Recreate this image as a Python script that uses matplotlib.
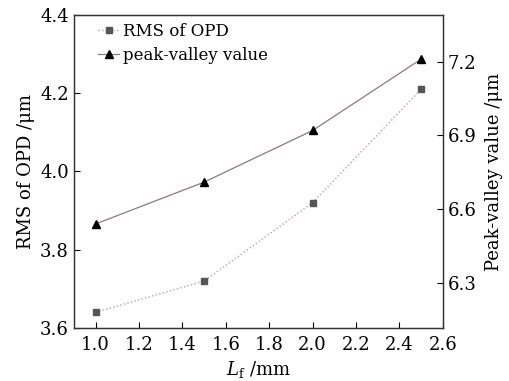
import numpy as np
import matplotlib.pyplot as plt
from matplotlib.ticker import MultipleLocator

plt.rcParams['font.family'] = ['DejaVu Serif']
plt.rcParams['mathtext.fontset'] = 'dejavuserif'

lf = [1.0, 1.5, 2.0, 2.5]
rms_opd = [3.64, 3.72, 3.92, 4.21]
peak_valley = [6.54, 6.71, 6.92, 7.21]

fig = plt.figure(figsize=(5.09, 3.81), dpi=100)
ax = fig.add_axes([0.145, 0.139, 0.725, 0.822])
ax2 = ax.twinx()

l1, = ax.plot(lf, rms_opd, color='#b8a09c', linestyle=':', linewidth=1.0,
              marker='s', markersize=4, markerfacecolor='#555555',
              markeredgecolor='#555555', label='RMS of OPD')
l2, = ax2.plot(lf, peak_valley, color='#8a7a78', linestyle='-', linewidth=0.9,
               marker='^', markersize=5.5, markerfacecolor='black',
               markeredgecolor='black', label='peak-valley value')

ax.set_xlim(0.9, 2.6)
ax.set_ylim(3.6, 4.4)
ax2.set_ylim(6.117, 7.39)

ax.xaxis.set_major_locator(MultipleLocator(0.2))
ax.yaxis.set_major_locator(MultipleLocator(0.2))
ax2.yaxis.set_major_locator(MultipleLocator(0.3))
ax.xaxis.set_major_formatter(lambda v, p: f'{v:.1f}')
ax.yaxis.set_major_formatter(lambda v, p: f'{v:.1f}')
ax2.yaxis.set_major_formatter(lambda v, p: f'{v:.1f}')

ax.tick_params(axis='both', direction='in', length=4, width=0.8, labelsize=13)
ax.tick_params(axis='x', pad=6)
ax2.tick_params(axis='y', direction='in', length=4, width=0.8, labelsize=13)
for a in (ax, ax2):
    for s in a.spines.values():
        s.set_linewidth(0.9)
        s.set_color('#333333')

ax.set_xlabel(r'$L_\mathrm{f}$ /mm', fontsize=13, labelpad=3)
ax.set_ylabel('RMS of OPD /μm', fontsize=13, labelpad=4)
ax2.set_ylabel('Peak-valley value /μm', fontsize=13, labelpad=6)

ax.legend(handles=[l1, l2], loc='upper left', frameon=False, fontsize=12,
          handlelength=1.3, handletextpad=0.2, labelspacing=0.45,
          borderpad=0, borderaxespad=0, bbox_to_anchor=(0.065, 0.975))

fig.savefig('out.png', dpi=100)
